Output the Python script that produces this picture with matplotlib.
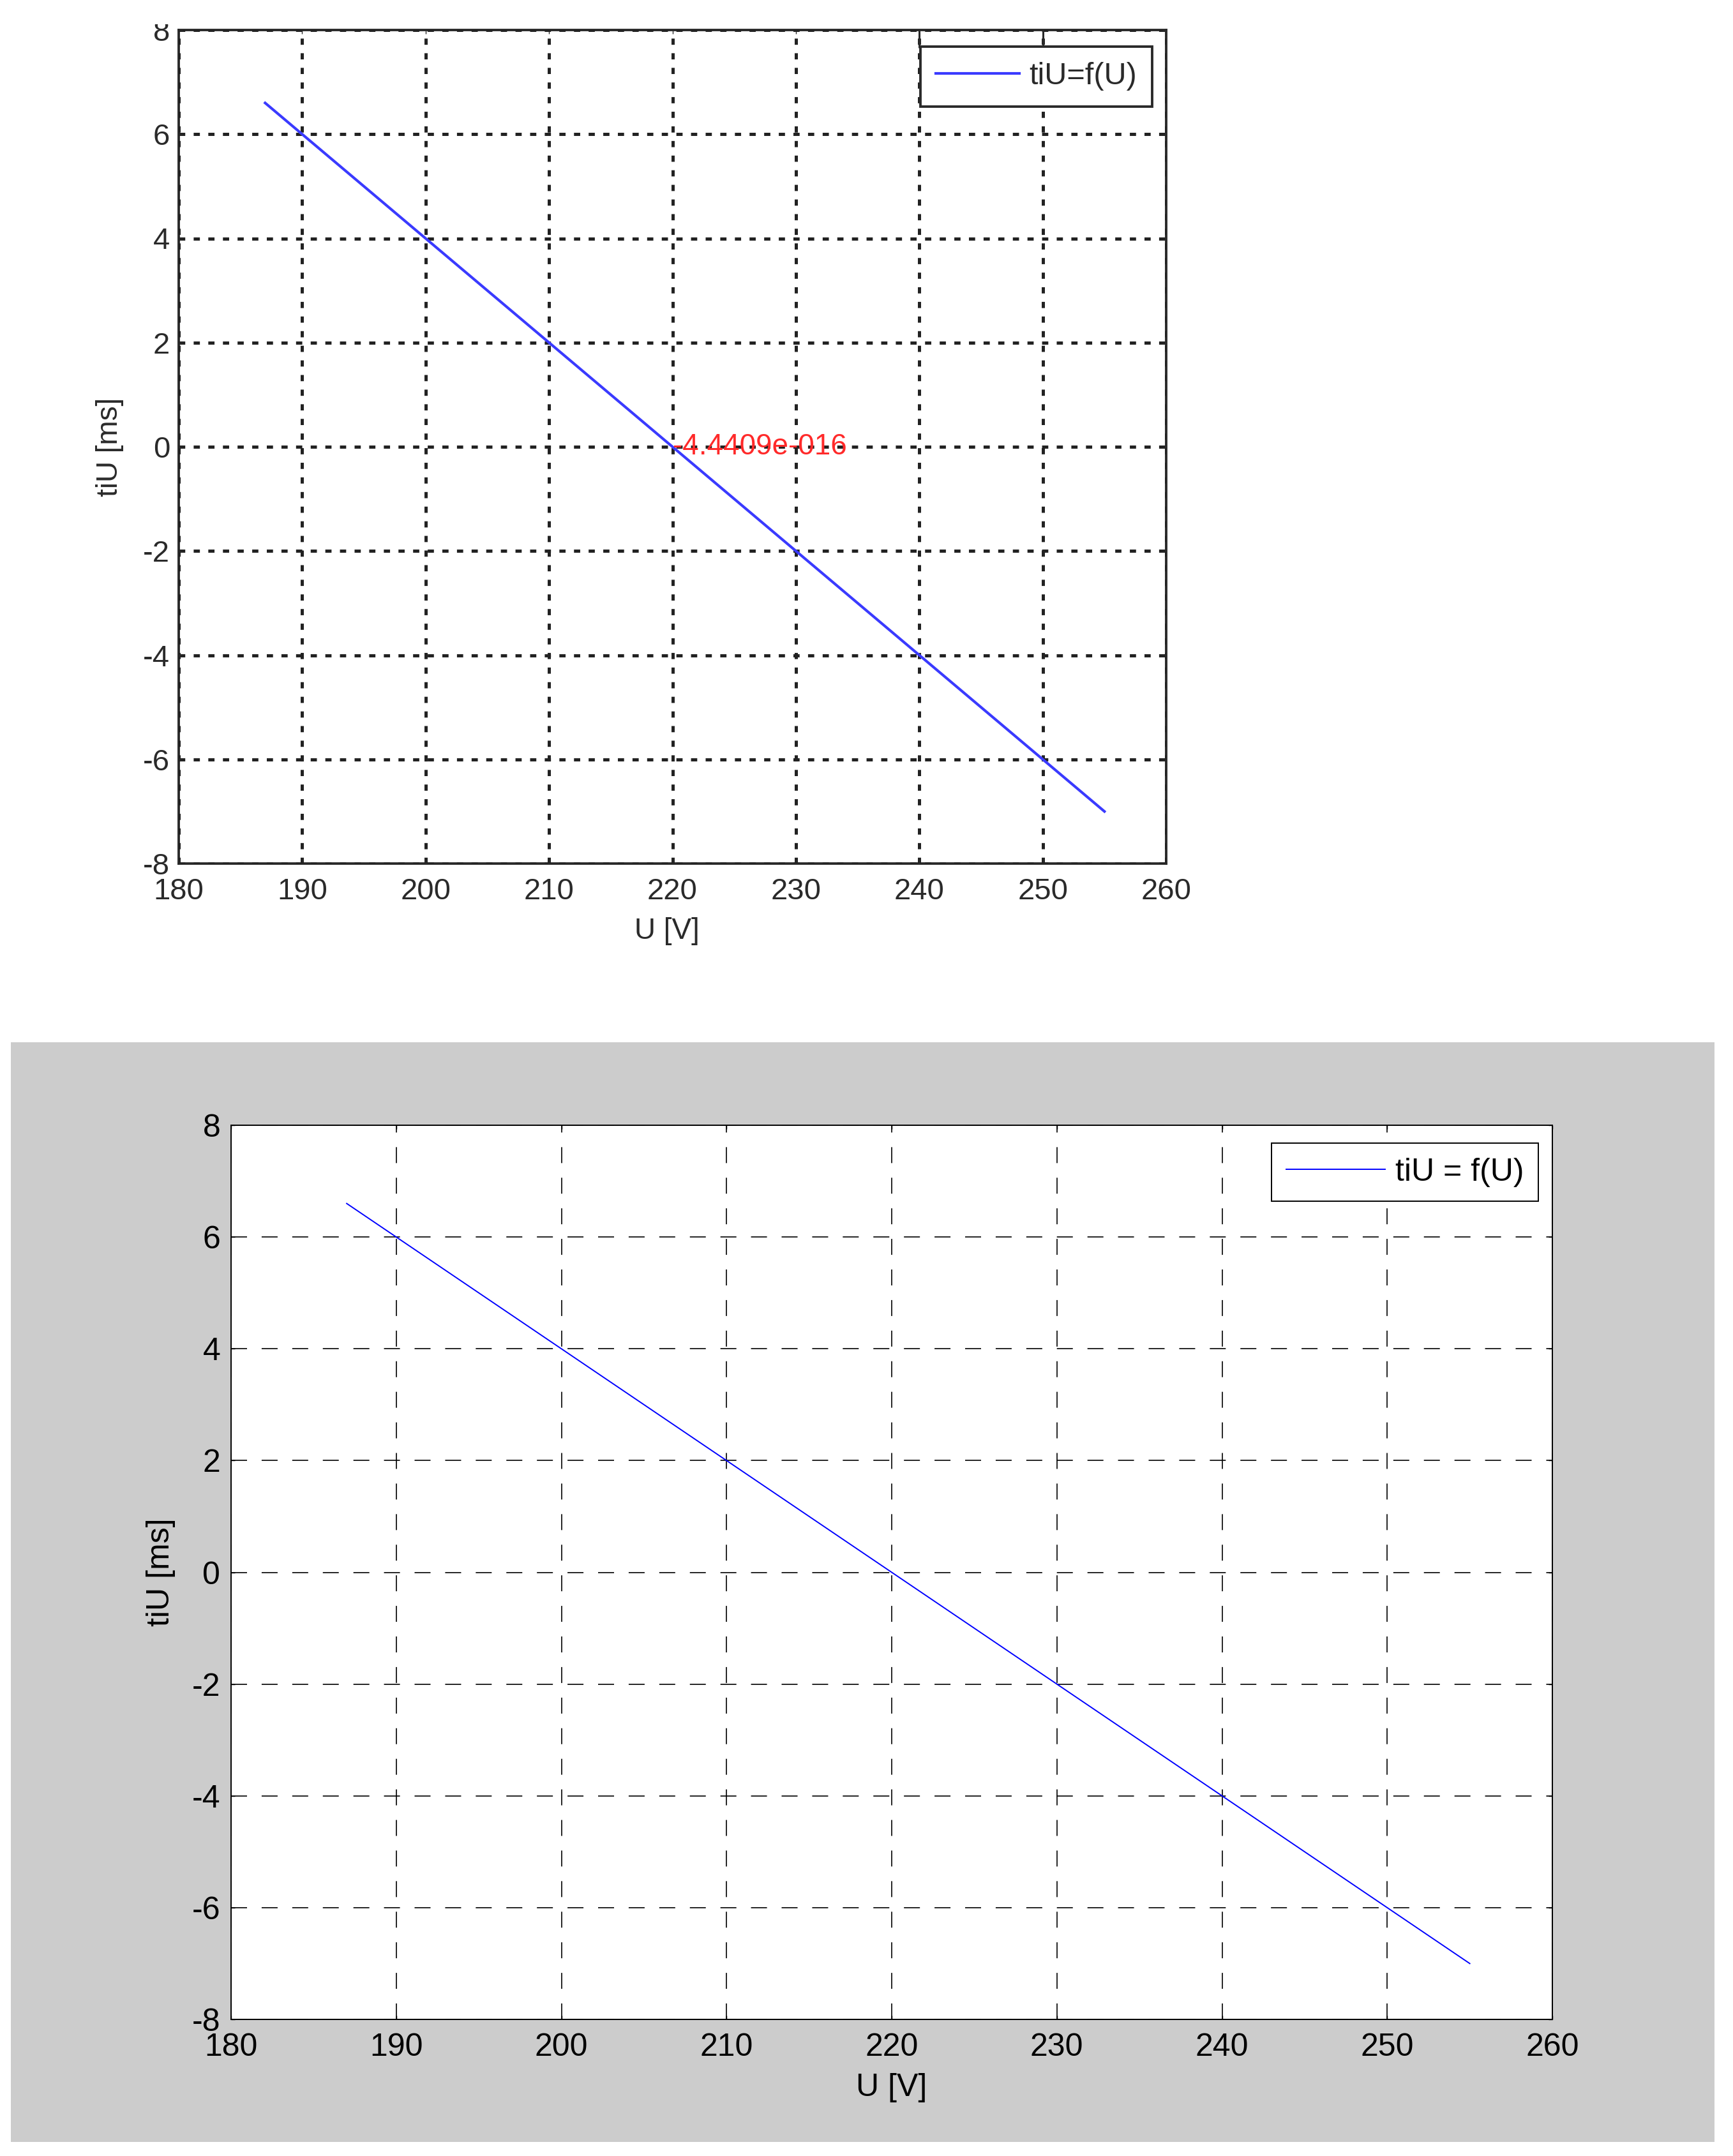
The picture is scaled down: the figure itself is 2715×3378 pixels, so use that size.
#!/usr/bin/env python3
"""Two renderings of the tiU = f(U) characteristic (old scan on top, MATLAB figure below)."""

import os

os.environ.setdefault("MPLCONFIGDIR", "/tmp/matplotlib")

import matplotlib

matplotlib.use("Agg")
import matplotlib.pyplot as plt
from matplotlib import font_manager
from matplotlib.patches import Rectangle


# values (grid crossings plus the two end points)
U_V = [187, 190, 200, 210, 220, 230, 240, 250, 255]
TIU_MS = [6.6, 6.0, 4.0, 2.0, 0.0, -2.0, -4.0, -6.0, -7.0]

X_TICKS = [180, 190, 200, 210, 220, 230, 240, 250, 260]
Y_TICKS = [-8, -6, -4, -2, 0, 2, 4, 6, 8]

ZERO_U = 220
ZERO_LABEL = "-4.4409e-016"

W, H = 2715, 3378
DPI = 100

plt.rcParams["lines.scale_dashes"] = False

installed = {f.name for f in font_manager.fontManager.ttflist}
FONT = "Liberation Sans" if "Liberation Sans" in installed else "DejaVu Sans"
NARROW = "Liberation Sans Narrow" if "Liberation Sans Narrow" in installed else FONT
plt.rcParams["font.family"] = [FONT, "DejaVu Sans"]


def px_axes(fig, left, top, right, bottom):
    """Add axes from pixel box (origin at top-left of image)."""
    return fig.add_axes([left / W, 1 - bottom / H, (right - left) / W, (bottom - top) / H])


def style_axes(ax, color, spine_lw, tick_fs, family, tick_pad_x, tick_pad_y):
    ax.set_xlim(X_TICKS[0], X_TICKS[-1])
    ax.set_ylim(Y_TICKS[0], Y_TICKS[-1])
    ax.set_xticks(X_TICKS)
    ax.set_yticks(Y_TICKS)
    ax.set_xticklabels([str(v) for v in X_TICKS], family=family, fontsize=tick_fs, color=color)
    ax.set_yticklabels([str(v) for v in Y_TICKS], family=family, fontsize=tick_fs, color=color)
    ax.tick_params(axis="both", direction="in", length=4, width=1, colors=color,
                   top=True, right=True)
    ax.tick_params(axis="x", pad=tick_pad_x)
    ax.tick_params(axis="y", pad=tick_pad_y)
    for sp in ax.spines.values():
        sp.set_linewidth(spine_lw)
        sp.set_color(color)
    ax.set_facecolor("white")


fig = plt.figure(figsize=(W / DPI, H / DPI), dpi=DPI, facecolor="white")

# gray MATLAB figure panel behind the lower plot
fig.add_artist(Rectangle((17 / W, 1 - 3356 / H), 2669 / W, 1723 / H,
                         transform=fig.transFigure, facecolor="#cccccc",
                         edgecolor="none", zorder=-5))

# ---- top: blurry scanned version ----
ax1 = px_axes(fig, 280, 47, 1827, 1353)
style_axes(ax1, "#2a2a2a", 2.8, 34, NARROW, 16, 10)
ax1.grid(True, color="#222222", linewidth=3.6, linestyle=(0, (7.0, 9.5)))
ax1.set_axisbelow(False)
ax1.plot(U_V, TIU_MS, color="#3a3aff", linewidth=3.0, label="tiU=f(U)", zorder=3)
ax1.text(ZERO_U, 0, ZERO_LABEL, color="#ff2a2a", fontsize=33, family=NARROW,
         ha="left", va="center", zorder=4)
ax1.vlines([240, 250], 7.66, 8, color="#2a2a2a", linewidth=2.2, zorder=4)
ax1.set_xlabel("U [V]", fontsize=33, family=NARROW, color="#2a2a2a", va="center")
ax1.xaxis.set_label_coords(0.4945, -0.0812)
ax1.set_ylabel("tiU [ms]", fontsize=33, family=NARROW, color="#2a2a2a", va="center")
ax1.yaxis.set_label_coords(-0.0698, 0.5)
leg1 = ax1.legend(loc="upper right", bbox_to_anchor=(0.9858, 0.980), borderaxespad=0,
                  prop={"family": NARROW, "size": 35}, handlelength=2.7,
                  handletextpad=0.3, borderpad=0.5, fancybox=False, framealpha=1)
leg1.get_frame().set_edgecolor("#2a2a2a")
leg1.get_frame().set_linewidth(2.8)
for t in leg1.get_texts():
    t.set_color("#2a2a2a")

# crop of the scan cuts the top of the "8"
fig.add_artist(Rectangle((0, 1 - 38 / H), 1, 38 / H, transform=fig.transFigure,
                         facecolor="white", edgecolor="none", zorder=10))

# ---- bottom: MATLAB figure ----
ax2 = px_axes(fig, 362, 1763, 2432, 3164)
style_axes(ax2, "black", 1.4, 36, FONT, 15, 12)
ax2.grid(True, color="black", linewidth=1.2, linestyle=(0, (18, 16.5)))
ax2.plot(U_V, TIU_MS, color="#0000ff", linewidth=1.4, label="tiU = f(U)", zorder=3)
ax2.set_xlabel("U [V]", fontsize=36, color="black", va="center")
ax2.xaxis.set_label_coords(0.5, -0.0764)
ax2.set_ylabel("tiU [ms]", fontsize=36, color="black", va="center")
ax2.yaxis.set_label_coords(-0.0531, 0.5)
leg2 = ax2.legend(loc="upper right", bbox_to_anchor=(0.9894, 0.980), borderaxespad=0,
                  prop={"size": 36}, handlelength=3.1, handletextpad=0.33,
                  borderpad=0.45, fancybox=False, framealpha=1)
leg2.get_frame().set_edgecolor("black")
leg2.get_frame().set_linewidth(1.4)

fig.savefig("out.png", dpi=DPI, facecolor="white")
